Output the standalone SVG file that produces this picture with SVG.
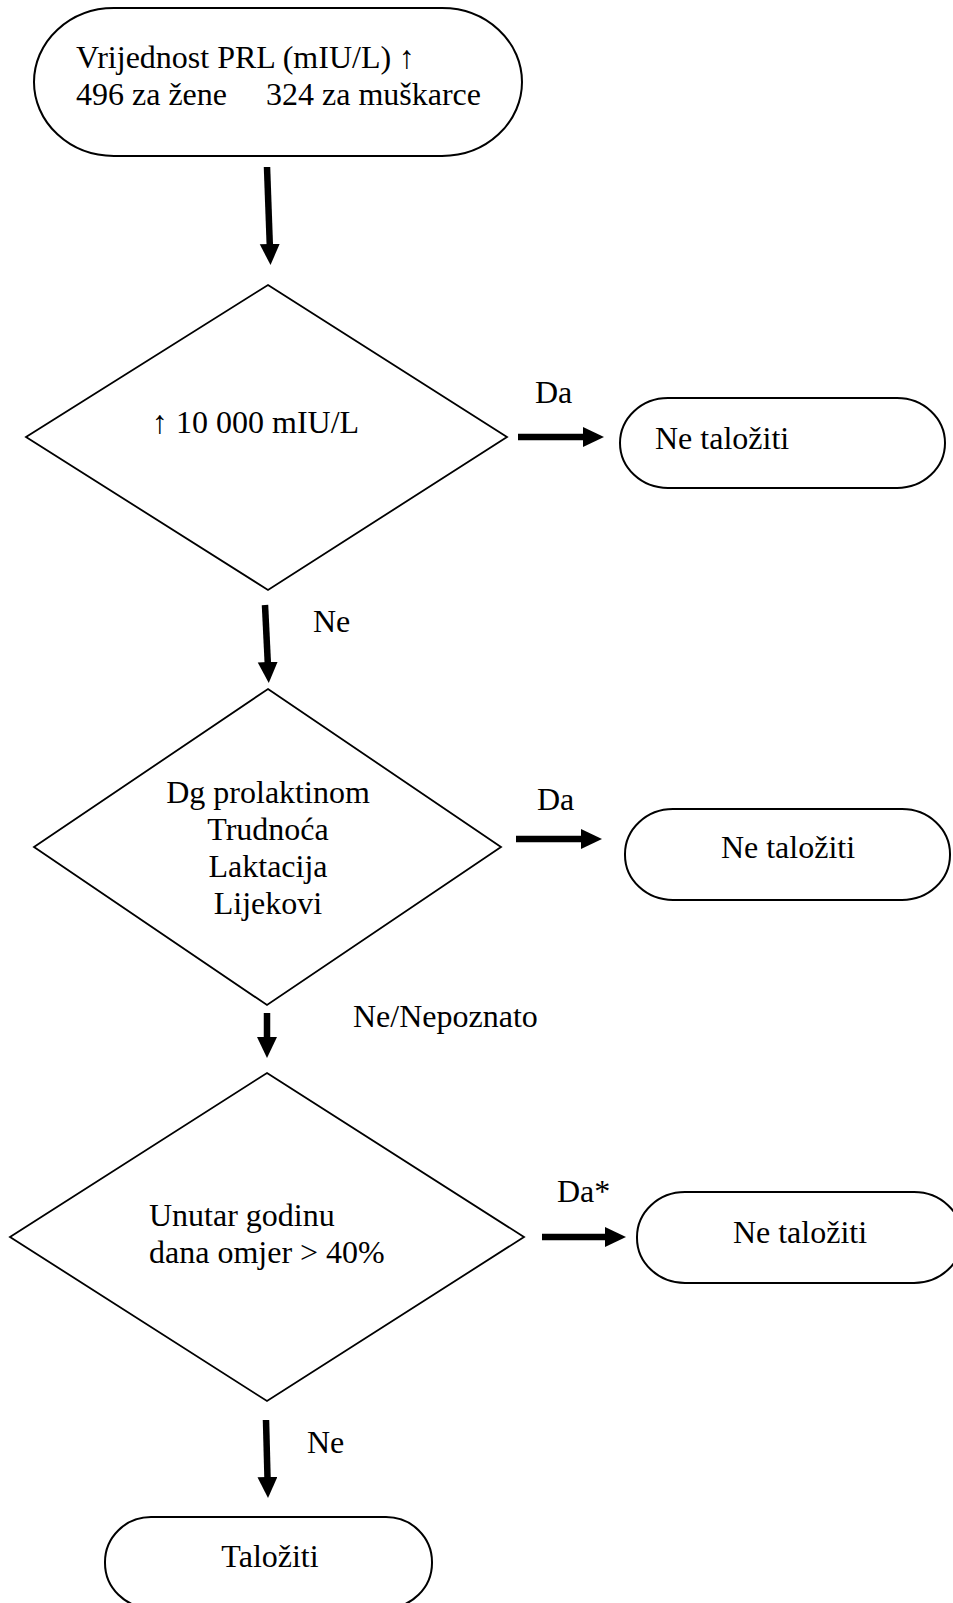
<svg xmlns="http://www.w3.org/2000/svg" width="953" height="1603" viewBox="0 0 953 1603">
<style>
  .shape { fill: #ffffff; stroke: #000000; stroke-width: 2; }
  .dia { fill: #ffffff; stroke: #000000; stroke-width: 1.8; }
  .t { font-family: "Liberation Serif", "Times New Roman", serif; font-size: 32px; fill: #000000; }
  .m { text-anchor: middle; }
  .arrow { stroke: #000000; stroke-width: 6.5; fill: none; marker-end: url(#head); }
</style>
<defs>
  <marker id="head" markerUnits="userSpaceOnUse" markerWidth="21" markerHeight="21" viewBox="0 0 21 21" refX="1" refY="10" orient="auto">
    <path d="M0,0 L21,10 L0,20 Z" fill="#000000"/>
  </marker>
</defs>
<rect width="953" height="1603" fill="#ffffff"/>

<g id="start">
  <rect class="shape" x="34" y="8" width="488" height="148" rx="80" ry="74"/>
  <text class="t" x="76" y="68">Vrijednost PRL (mIU/L) ↑</text>
  <text class="t" x="76" y="105">496 za žene</text>
  <text class="t" x="266" y="105">324 za muškarce</text>
</g>

<g id="decision1">
  <polygon class="dia" points="268,285 507,437 268,590 26,437"/>
  <text class="t" x="152" y="433">↑ 10 000 mIU/L</text>
</g>

<g id="end1">
  <rect class="shape" x="620" y="398" width="325" height="90" rx="48" ry="45"/>
  <text class="t" x="655" y="449">Ne taložiti</text>
</g>

<g id="decision2">
  <polygon class="dia" points="268,689 501,847 267,1005 34,847"/>
  <text class="t m" x="268" y="803">Dg prolaktinom</text>
  <text class="t m" x="268" y="840">Trudnoća</text>
  <text class="t m" x="268" y="877">Laktacija</text>
  <text class="t m" x="268" y="914">Lijekovi</text>
</g>

<g id="end2">
  <rect class="shape" x="625" y="809" width="325" height="91" rx="48" ry="45"/>
  <text class="t m" x="788" y="858">Ne taložiti</text>
</g>

<g id="decision3">
  <polygon class="dia" points="267,1073 524,1237 267,1401 10,1237"/>
  <text class="t" x="149" y="1226">Unutar godinu</text>
  <text class="t" x="149" y="1263">dana omjer &gt; 40%</text>
</g>

<g id="end3">
  <rect class="shape" x="637" y="1192" width="325" height="91" rx="48" ry="45"/>
  <text class="t m" x="800" y="1243">Ne taložiti</text>
</g>

<g id="end4">
  <rect class="shape" x="105" y="1517" width="327" height="91" rx="46" ry="45"/>
  <text class="t m" x="270" y="1567">Taložiti</text>
</g>

<g id="connectors">
  <line class="arrow" x1="267" y1="167" x2="269.8" y2="245"/>
  <line class="arrow" x1="518" y1="437" x2="584" y2="437"/>
  <text class="t" x="535" y="403">Da</text>
  <line class="arrow" x1="265" y1="605" x2="267.8" y2="663"/>
  <text class="t" x="313" y="632">Ne</text>
  <line class="arrow" x1="516" y1="839" x2="582" y2="839"/>
  <text class="t" x="537" y="810">Da</text>
  <line class="arrow" x1="267" y1="1013" x2="267" y2="1038"/>
  <text class="t" x="353" y="1027">Ne/Nepoznato</text>
  <line class="arrow" x1="542" y1="1237" x2="606" y2="1237"/>
  <text class="t" x="557" y="1202">Da*</text>
  <line class="arrow" x1="266" y1="1420" x2="267.5" y2="1478"/>
  <text class="t" x="307" y="1453">Ne</text>
</g>
</svg>
